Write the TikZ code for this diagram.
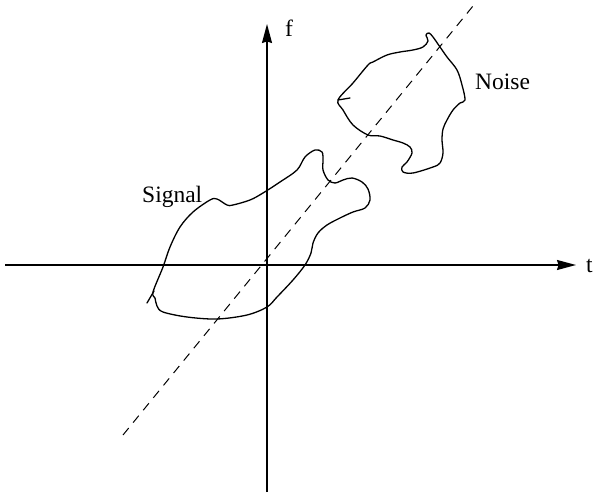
\documentclass[tikz,border=0pt]{standalone}
\usepackage{fontspec}
\setmainfont{Liberation Serif}
\usetikzlibrary{arrows.meta}
\tikzset{
  axis/.style={line width=1.4pt, -{Stealth[length=19pt,width=10pt,inset=1.5pt]}},
  trend/.style={line width=1pt, dash pattern=on 9pt off 7pt},
  blob/.style={line width=1.3pt, line join=round, line cap=round},
  lab/.style={font=\fontsize{23.5}{23.5}\selectfont, inner sep=0pt},
}

\begin{document}
\begin{tikzpicture}[x=1pt,y=-1pt]
\useasboundingbox (0,0) rectangle (593,494);
% axes and the dashed diagonal
\coordinate (t0) at (5,265);
\coordinate (t1) at (576,265);
\coordinate (f0) at (267,492);
\coordinate (f1) at (267,24);
\coordinate (d0) at (123,435);
\coordinate (d1) at (473,6);
\draw[axis] (t0) -- (t1);
\draw[axis] (f0) -- (f1);
\draw[trend] (d0) -- (d1);
% labels
\node[lab, anchor=base west] (tlab) at (586,272) {t};
\node[lab, anchor=base west] (flab) at (285,37) {f};
\node[lab, anchor=base west] (siglab) at (142,202) {Signal};
\node[lab, anchor=base west] (noiselab) at (475,90) {Noise};
% signal region
\draw[blob] plot[smooth cycle, tension=0.55] coordinates {
  (153,292) (163,267) (170,247) (180,227) (193,212) (210,200) (217,199)
  (227,205) (233,205) (250,200) (263,193) (280,182) (297,170) (305,157)
  (315,150) (322,152) (323,160) (323,170) (328,180) (335,183) (343,180)
  (352,178) (362,182) (368,189) (370,200) (365,208) (353,212) (340,218)
  (327,225) (318,233) (313,243) (311,253) (305,265) (293,280) (277,297)
  (267,307) (247,315) (217,319) (187,317) (163,312) (157,306) (155,298)};
\draw[blob] (147,303) -- (154,291);
% noise region
\draw[blob] plot[smooth cycle, tension=0.55] coordinates {
  (338,100) (353,83) (368,65) (373,62) (387,55) (400,52) (413,50)
  (423,47) (428,41) (426,35) (429,33) (433,37) (440,47) (447,57)
  (457,70) (462,85) (465,100) (460,103) (453,110) (447,120) (443,129)
  (442,140) (443,153) (440,163) (433,167) (413,173) (403,172) (402,167)
  (407,162) (412,153) (410,147) (403,143) (393,140) (380,136) (368,135)
  (353,125) (343,110)};
\draw[blob] (338,100) -- (350,98);
\end{tikzpicture}
\end{document}
